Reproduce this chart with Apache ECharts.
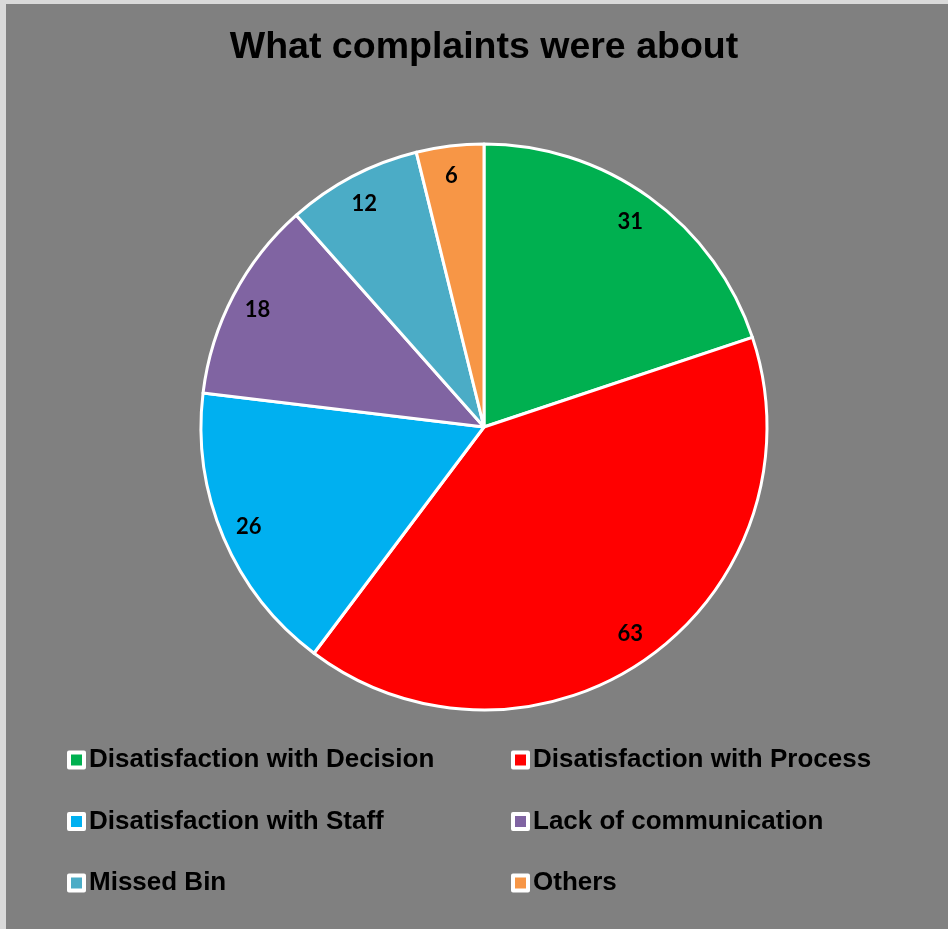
<!DOCTYPE html>
<html>
<head>
<meta charset="utf-8">
<script src="https://cdn.jsdelivr.net/npm/echarts@6/dist/echarts.min.js"></script>
<style>
html,body{margin:0;padding:0;background:#d9d9d9;}
#chart{width:948px;height:929px;}
</style>
</head>
<body>
<div id="chart"></div>
<script>
const titleText = 'What complaints were about';
const categories = [
  'Disatisfaction with Decision',
  'Disatisfaction with Process',
  'Disatisfaction with Staff',
  'Lack of communication',
  'Missed Bin',
  'Others'
];
const values = [31, 63, 26, 18, 12, 6];
const colors = ['#00B050', '#FF0000', '#00B0F0', '#8064A2', '#4BACC6', '#F79646'];
const legendLeftColumn = ['Disatisfaction with Decision', 'Disatisfaction with Staff', 'Missed Bin'];
const legendRightColumn = ['Disatisfaction with Process', 'Lack of communication', 'Others'];

const chart = echarts.init(document.getElementById('chart'), null, {renderer: 'canvas'});

const mainData = categories.map((c, i) => ({name: c, value: values[i], itemStyle: {color: colors[i]}}));
const labelData = categories.map((c, i) => ({name: 'lbl' + i, value: values[i]}));

const legendCommon = {
  orient: 'vertical',
  icon: 'rect',
  padding: 0,
  itemWidth: 15,
  itemHeight: 15,
  itemGap: 35.5,
  itemStyle: {borderColor: '#ffffff', borderWidth: 4},
  textStyle: {
    fontFamily: '"Liberation Sans", Arial, sans-serif',
    fontWeight: 'bold',
    fontSize: 26,
    lineHeight: 26,
    color: '#000'
  },
  selectedMode: false,
  top: 747
};

chart.setOption({
  backgroundColor: '#808080',
  animation: false,
  title: {
    text: titleText,
    left: 484,
    textAlign: 'center',
    top: 29,
    padding: 0,
    textStyle: {
      fontFamily: '"Liberation Sans", Arial, sans-serif',
      fontWeight: 'bold',
      fontSize: 37.5,
      color: '#000'
    }
  },
  legend: [
    Object.assign({}, legendCommon, {data: legendLeftColumn, left: 67}),
    Object.assign({}, legendCommon, {data: legendRightColumn, left: 511})
  ],
  graphic: [
    {type: 'rect', left: 0, top: 0, shape: {width: 948, height: 4}, style: {fill: '#d9d9d9'}, silent: true},
    {type: 'rect', left: 0, top: 0, shape: {width: 6, height: 929}, style: {fill: '#d9d9d9'}, silent: true}
  ],
  series: [
    {
      type: 'pie',
      center: [484, 427],
      radius: [0, 283],
      startAngle: 90,
      clockwise: true,
      avoidLabelOverlap: false,
      data: mainData,
      itemStyle: {borderColor: '#ffffff', borderWidth: 3},
      label: {show: false},
      labelLine: {show: false},
      emphasis: {disabled: true}
    },
    {
      type: 'pie',
      center: [484, 427],
      radius: [218, 283],
      startAngle: 90,
      clockwise: true,
      silent: true,
      avoidLabelOverlap: false,
      data: labelData,
      itemStyle: {color: 'rgba(0,0,0,0)', borderWidth: 0},
      label: {
        show: true,
        position: 'inside',
        formatter: '{c}',
        offset: [-2, 1],
        fontFamily: 'Lato, "Open Sans", sans-serif',
        fontWeight: 'bold',
        fontSize: 22,
        color: '#000'
      },
      labelLine: {show: false},
      emphasis: {disabled: true}
    }
  ]
});
</script>
</body>
</html>
